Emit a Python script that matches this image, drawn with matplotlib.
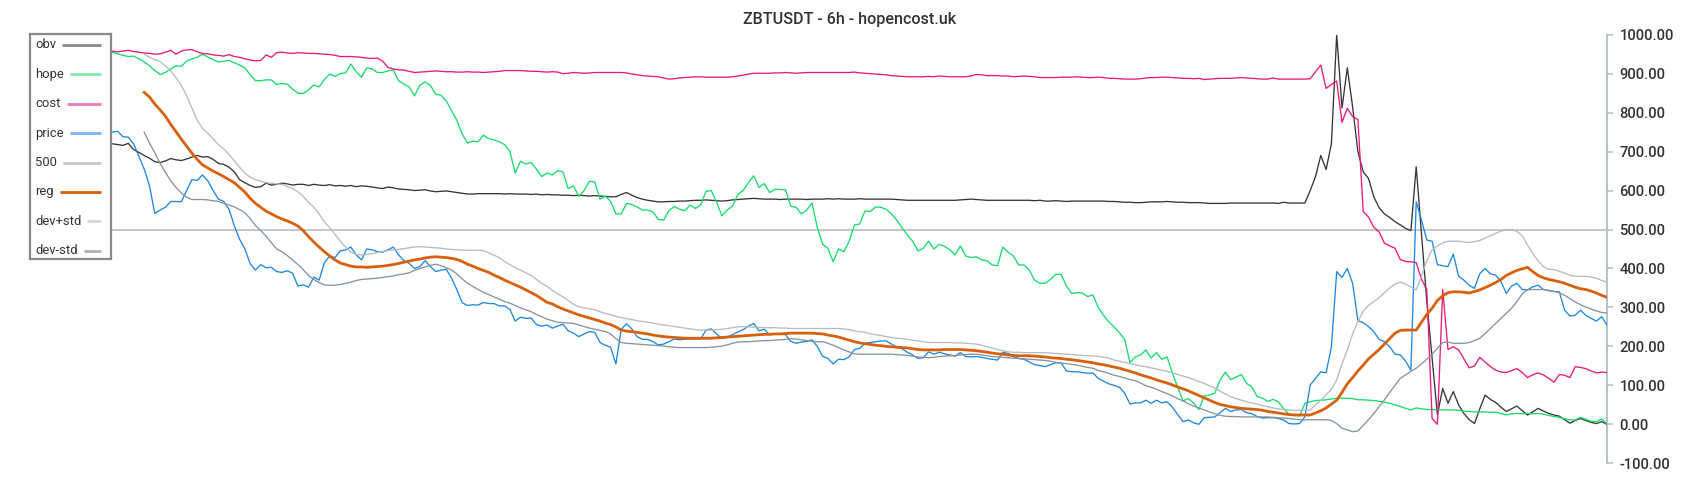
import numpy as np
import matplotlib
matplotlib.use("Agg")
import matplotlib.pyplot as plt
from matplotlib.ticker import FormatStrFormatter
from matplotlib import font_manager

plt.rcParams['font.family'] = ['Roboto', 'DejaVu Sans']
_rw = {f.weight for f in font_manager.fontManager.ttflist if f.name == 'Roboto'}
MED = 500 if (500 in _rw or 'medium' in _rw) else 'normal'

TITLE = "ZBTUSDT - 6h - hopencost.uk"
LEGEND_NAMES = ["obv", "hope", "cost", "price", "500", "reg", "dev+std", "dev-std"]
LEVEL_500 = 500
Y_TICKS = [-100, 0, 100, 200, 300, 400, 500, 600, 700, 800, 900, 1000]

obv = [
    728, 731, 726, 733, 729, 724, 730, 727, 722, 725, 721, 718, 723, 720, 717, 719, 722,
    720, 718, 716, 721, 705, 698, 690, 683, 674, 672, 676, 682, 679, 677, 681, 686,
    690, 686, 687, 680, 670, 667, 660, 648, 628, 620, 613, 608, 610, 619, 614, 616,
    619, 617, 614, 616, 616, 613, 616, 614, 613, 615, 612, 613, 611, 613, 610, 612, 611,
    609, 607, 605, 609, 607, 604, 603, 602, 600, 601, 602, 599, 597, 598, 599, 597, 595,
    593, 591, 591, 592, 592, 592, 592, 592, 591, 592, 591, 591, 591, 590, 591, 589, 590,
    589, 589, 588, 588, 587, 588, 587, 586, 587, 586, 585, 584, 584, 590, 595, 588, 582,
    578, 575, 573, 571, 571, 572, 572, 573, 573, 574, 575, 575, 576, 575, 574, 573, 574,
    576, 577, 578, 579, 580, 579, 578, 578, 578, 577, 578, 578, 578, 578, 577, 578, 578,
    578, 579, 578, 579, 578, 578, 578, 579, 578, 578, 578, 578, 578, 578, 577, 576, 575,
    575, 575, 575, 575, 575, 575, 575, 575, 575, 576, 577, 578, 577, 576, 575, 575, 575,
    575, 575, 575, 575, 575, 575, 574, 575, 573, 573, 574, 573, 572, 573, 573, 573, 573,
    573, 573, 573, 572, 572, 571, 570, 570, 569, 569, 570, 571, 571, 571, 572, 571, 570,
    570, 569, 569, 569, 568, 567, 567, 567, 567, 568, 568, 568, 568, 568, 568, 568, 568,
    568, 567, 570, 568, 568, 568,
    568, 600, 636, 690, 654, 720, 1000, 812, 915, 815, 700,
    648, 631, 584, 556, 540, 531, 520, 512, 503, 497, 661, 487, 316, 170, 24, 92, 54,
    84, 50, 28, 12, 2, 40, 75, 64, 56, 44, 33, 40, 47, 35, 24, 32, 41, 34, 28, 24, 21,
    12, 3, 10, 15, 10, 5, 2, 7, 0,
]

hope = [
    968, 965, 970, 966, 962, 967, 963, 960, 964, 961, 958, 962, 959, 957, 960, 958, 956,
    955, 951, 947, 944, 945, 938, 930, 920, 908, 898, 903, 912, 920, 919, 932, 938,
    942, 950, 943, 936, 930, 932, 934, 928, 922, 915, 897, 882, 882, 884, 884, 872,
    875, 873, 860, 850, 849, 858, 871, 866, 885, 899, 893, 900, 902, 925, 905, 891, 915,
    912, 903, 903, 907, 910, 882, 873, 866, 843, 870, 879, 870, 847, 845, 830, 805, 780,
    745, 722, 727, 725, 742, 733, 730, 725, 718, 700, 645, 675, 668, 672, 655, 636, 645,
    640, 651, 648, 605, 612, 585, 600, 624, 622, 578, 586, 572, 540, 540, 567, 564, 558,
    550, 550, 545, 526, 524, 548, 559, 552, 548, 563, 554, 563, 598, 600, 570, 535, 550,
    560, 590, 600, 620, 638, 608, 618, 595, 603, 603, 602, 560, 557, 540, 550, 568, 505,
    462, 452, 417, 450, 443, 469, 512, 514, 548, 546, 558, 557, 552, 540, 524, 504, 486,
    470, 445, 452, 470, 450, 462, 457, 448, 435, 458, 432, 428, 430, 422, 420, 409, 407,
    455, 442, 432, 409, 409, 396, 370, 362, 362, 372, 385, 385, 355, 336, 338, 337, 328,
    332, 300, 280, 263, 250, 235, 218, 158, 173, 178, 191, 170, 184, 167, 173, 132, 95,
    60, 66, 55, 38, 73, 75, 80, 114, 134, 115, 121, 128, 105, 96, 71, 67, 59,
    64, 58, 40, 26, 23, 22, 54, 58, 61, 62, 63, 65, 67, 67, 67, 66, 63,
    63, 62, 61, 59, 57, 54, 50, 46, 41, 37, 42, 40, 38, 38, 37, 37, 37,
    37, 36, 34, 33, 32, 32, 32, 31, 31, 28, 24, 27, 28, 27, 28, 27, 28,
    26, 23, 20, 18, 14, 12, 11, 18, 13, 8, 7, 14, 1,
]

cost = [
    962, 965, 963, 960, 964, 961, 959, 962, 960, 958, 961, 963, 960, 958, 961, 959, 957,
    958, 956, 958, 960, 957, 955, 953, 952, 950, 951, 955, 960, 950, 958, 961, 962,
    956, 952, 951, 948, 947, 945, 949, 944, 942, 938, 935, 933, 934, 948, 942, 954,
    955, 953, 952, 954, 953, 952, 952, 951, 950, 949, 947, 944, 944, 944, 943, 942, 940,
    939, 940, 932, 916, 912, 910, 909, 906, 903, 904, 905, 906, 907, 906, 905, 905, 904,
    904, 905, 904, 904, 903, 904, 905, 906, 908, 908, 908, 908, 907, 906, 906, 905, 904,
    905, 904, 900, 901, 903, 902, 901, 902, 903, 903, 903, 903, 903, 903, 902, 899, 897,
    895, 894, 893, 892, 889, 886, 887, 889, 890, 891, 892, 892, 891, 891, 891, 891, 891,
    892, 894, 896, 899, 901, 901, 901, 901, 902, 902, 903, 902, 901, 902, 903, 903, 903,
    903, 903, 903, 903, 903, 903, 904, 902, 901, 900, 899, 898, 897, 895, 894, 893, 892,
    892, 892, 892, 893, 892, 894, 893, 892, 892, 892, 892, 894, 898, 897, 895, 895, 895,
    894, 894, 892, 893, 894, 893, 892, 890, 890, 890, 890, 891, 891, 891, 892, 891, 890,
    890, 891, 890, 888, 888, 887, 886, 886, 886, 887, 889, 890, 890, 891, 891, 890, 889,
    888, 888, 887, 888, 885, 886, 887, 888, 888, 888, 889, 890, 889, 888, 887, 886, 886,
    889, 886, 886, 886, 886, 886, 886, 887, 905, 922, 862, 872, 881, 775, 811, 790, 782,
    546, 532, 506, 494, 465, 458, 452, 423, 418, 417, 415, 372, 346, 15, 0, 346, 192,
    199, 191, 168, 145, 150, 172, 160, 148, 139, 134, 133, 138, 143, 133, 120, 127, 132,
    127, 118, 108, 128, 126, 120, 148, 146, 143, 137, 132, 134, 133,
]

price = [
    735, 742, 738, 745, 750, 740, 735, 745, 752, 748, 740, 744, 750, 746, 742, 748, 756,
    750, 752, 738, 737, 720, 688, 655, 612, 541, 550, 557, 572, 572, 571, 600, 628,
    626, 640, 625, 600, 578, 572, 552, 510, 475, 450, 412, 396, 410, 402, 403, 392,
    390, 394, 388, 355, 358, 352, 378, 370, 415, 432, 428, 445, 448, 455, 435, 422, 450,
    448, 443, 442, 448, 455, 435, 420, 413, 400, 405, 420, 405, 392, 396, 398, 375, 345,
    312, 305, 307, 306, 313, 310, 310, 304, 304, 295, 265, 275, 272, 273, 256, 252, 255,
    247, 252, 257, 240, 234, 225, 232, 238, 236, 210, 203, 198, 155, 244, 258, 245, 225,
    218, 218, 212, 204, 206, 212, 219, 217, 219, 219, 219, 219, 242, 245, 232, 220, 224,
    230, 237, 243, 252, 259, 240, 244, 230, 232, 232, 230, 213, 208, 211, 213, 217, 200,
    175, 169, 155, 167, 166, 173, 192, 195, 208, 210, 212, 214, 214, 206, 198, 194, 185,
    178, 169, 171, 186, 180, 185, 181, 178, 175, 184, 174, 173, 174, 172, 169, 167, 165,
    185, 182, 174, 169, 167, 160, 153, 151, 148, 153, 158, 158, 137, 135, 135, 133, 131,
    132, 118, 111, 104, 100, 95, 80, 52, 55, 55, 62, 54, 62, 55, 58, 44, 25,
    7, 11, 4, 0, 17, 18, 19, 30, 41, 33, 37, 38, 30, 27, 20, 16, 17,
    17, 15, 11, 2, 1, 2, 19, 101, 118, 135, 132, 199, 392, 377, 400, 362, 266,
    261, 251, 238, 218, 212, 199, 180, 178, 162, 139, 571, 524, 473, 470, 410, 407, 405,
    437, 380, 370, 357, 349, 387, 400, 386, 383, 366, 336, 355, 362, 346, 345, 353, 357,
    346, 343, 341, 340, 293, 278, 280, 293, 280, 272, 265, 276, 255,
]

REG_START = 23
reg = [
    852, 840, 822, 807, 791, 770, 751, 732, 714, 696, 680, 666, 658, 650, 643, 636, 628,
    620, 608, 596, 580, 567, 557, 547, 540, 533,
    527, 522, 516, 509, 497, 482, 468, 455, 443, 432, 422, 414, 410, 406, 404, 404, 403,
    404, 405, 406, 408, 410, 413, 416, 419, 422, 424, 427, 429, 430, 429, 428, 426, 423,
    418, 411, 406, 400, 395, 390, 383, 377, 370, 364, 358, 352, 345, 338, 331, 322, 313,
    309, 302, 296, 291, 286, 281, 277, 273, 269, 265, 260, 256, 250, 242, 239, 238, 236,
    234, 232, 229, 227, 225, 224, 223, 222, 221, 221, 221, 221, 221, 221, 222, 223, 224,
    225, 226, 227, 228, 229, 230, 231, 231, 232, 232, 233, 234, 234, 234, 234, 234, 233,
    232, 229, 227, 224, 220, 216, 212, 209, 207, 205, 203, 202, 200, 199, 198, 197, 196,
    194, 192, 191, 191, 191, 191, 192, 192, 192, 192, 191, 190, 189, 187, 185, 183, 181,
    180, 178, 177, 176, 176, 176, 175, 174, 173, 171, 170, 169, 167, 166, 164, 162, 160,
    158, 155, 153, 150, 147, 144, 140, 136, 132, 127, 123, 119, 114, 110, 106, 101, 96,
    91, 86, 80, 74, 68, 62, 56, 51, 48, 45, 43, 41, 40, 39, 38, 36, 33,
    31, 29, 27, 25, 24, 24, 24, 24, 29, 35, 42, 52, 62, 82, 104, 120, 137,
    152, 168, 180, 192, 206, 220, 234, 241, 242, 242, 242, 262, 282, 298, 318, 330, 338,
    340, 340, 339, 337, 341, 345, 351, 357, 364, 372, 382, 389, 395, 399, 403, 392, 382,
    376, 372, 369, 366, 362, 357, 352, 348, 346, 342, 337, 331, 326,
]

dev_plus_std = [
    950, 942, 936, 931, 920, 907, 890, 870, 843, 812, 780, 760, 747, 733, 718, 707, 693,
    676, 660, 645, 634, 628, 624, 620, 619, 617,
    616, 610, 605, 597, 585, 570, 557, 540, 520, 505, 488, 470, 455, 442, 436, 435, 436,
    438, 441, 444, 446, 448, 449, 451, 453, 455, 456, 455, 454, 453, 452, 450, 449, 448,
    447, 447, 447, 447, 446, 440, 434, 428, 418, 410, 402, 396, 389, 382, 372, 362, 354,
    344, 335, 327, 318, 308, 302, 299, 297, 294, 289, 285, 281, 277, 274, 271, 269, 266,
    264, 262, 260, 257, 255, 253, 251, 249, 247, 245, 243, 242, 242, 242, 243, 244, 246,
    248, 250, 251, 250, 249, 249, 248, 248, 248, 247, 247, 246, 246, 246, 246, 246, 246,
    246, 246, 246, 246, 245, 243, 240, 238, 236, 232, 230, 228, 225, 223, 221, 220, 218,
    216, 214, 212, 210, 210, 210, 210, 210, 209, 209, 208, 207, 206, 203, 199, 196, 192,
    189, 186, 185, 185, 184, 184, 184, 184, 184, 183, 182, 181, 180, 179, 178, 177, 176,
    176, 174, 172, 170, 165, 162, 159, 156, 153, 150, 148, 145, 142, 139, 136, 132, 128,
    124, 120, 115, 110, 105, 99, 93, 85, 78, 71, 66, 62, 58, 55, 52, 48, 45,
    42, 40, 38, 37, 36, 36, 36, 37, 50, 62, 76, 90, 114, 155, 190, 232, 264,
    290, 305, 315, 325, 338, 350, 360, 365, 360, 352, 345, 380, 420, 448, 458, 466, 470,
    470, 470, 468, 467, 469, 472, 478, 484, 490, 496, 499, 500, 495, 484, 460, 438, 420,
    405, 398, 397, 393, 388, 383, 380, 380, 380, 378, 375, 369, 365,
]

dev_minus_std = [
    750, 722, 697, 670, 647, 625, 608, 594, 583, 577, 577, 577, 576, 574, 572, 567, 563,
    558, 551, 543, 528, 510, 497, 483, 466, 450,
    443, 433, 422, 410, 397, 382, 372, 364, 358, 357, 357, 359, 362, 365, 369, 372, 373,
    374, 375, 377, 379, 381, 384, 386, 389, 395, 400, 404, 408, 411, 407, 402, 396, 386,
    373, 362, 354, 346, 339, 333, 327, 321, 315, 311, 305, 299, 294, 289, 282, 276, 270,
    266, 262, 261, 260, 259, 255, 251, 247, 244, 241, 238, 232, 220, 210, 208, 207, 206,
    205, 204, 203, 202, 201, 199, 198, 197, 197, 197, 197, 197, 197, 198, 199, 201, 204,
    208, 211, 212, 212, 213, 214, 215, 215, 216, 217, 218, 220, 219, 217, 215, 213, 212,
    212, 208, 203, 197, 191, 186, 181, 180, 180, 180, 180, 180, 180, 180, 179, 178, 177,
    175, 173, 172, 171, 172, 174, 175, 176, 177, 178, 179, 180, 180, 178, 176, 174, 173,
    172, 171, 170, 169, 168, 167, 166, 165, 164, 162, 159, 157, 156, 154, 152, 149, 146,
    144, 138, 135, 131, 126, 123, 119, 115, 112, 106, 99, 95, 90, 84, 79, 73, 66,
    60, 53, 47, 42, 37, 32, 27, 23, 21, 20, 20, 19, 19, 19, 19, 19, 19,
    18, 17, 16, 15, 13, 12, 11, 12, 12, 12, 12, 10, 2, -10, -14, -19, -17,
    -3, 12, 28, 45, 63, 82, 100, 118, 127, 136, 144, 155, 167, 180, 195, 210, 211,
    208, 208, 208, 210, 215, 221, 233, 246, 259, 272, 285, 298, 315, 335, 345, 346, 346,
    346, 344, 341, 338, 331, 323, 314, 307, 301, 296, 291, 287, 286,
]

# ---------------------------------------------------------------- figure
W, H = 1700, 500
fig = plt.figure(figsize=(W / 100, H / 100), dpi=100)
fig.patch.set_facecolor('white')

# category spacing: first sample at x=22.3 px, last at x=1607 px; the drawing
# area itself begins at x=30 px (under the legend's left edge)
x_first_px, right_px, top_px, bottom_px = 22.3, 1607.0, 34.7, 463.3
area_left_px = 30.0
n = len(price)
px_per_idx = (right_px - x_first_px) / (n - 1)
x_lo = (area_left_px - x_first_px) / px_per_idx

ax = fig.add_axes([area_left_px / W, 1 - bottom_px / H,
                   (right_px - area_left_px) / W, (bottom_px - top_px) / H])

ax.plot(np.arange(len(obv)), obv, color='#363636', lw=0.95, zorder=3)
ax.plot(np.arange(len(hope)), hope, color='#17db6c', lw=0.95, zorder=3)
ax.plot(np.arange(len(cost)), cost, color='#e8197d', lw=0.95, zorder=3)
ax.plot(np.arange(len(price)), price, color='#1e88e5', lw=0.95, zorder=3)
ax.axhline(LEVEL_500, color='#c6c6c6', lw=1.4, zorder=2)
ax.plot(np.arange(REG_START, REG_START + len(reg)), reg, color='#d8600a', lw=2.0, zorder=4)
ax.plot(np.arange(REG_START, REG_START + len(dev_plus_std)), dev_plus_std,
        color='#b3bcc4', lw=0.95, zorder=3)
ax.plot(np.arange(REG_START, REG_START + len(dev_minus_std)), dev_minus_std,
        color='#88939d', lw=0.95, zorder=3)

ax.set_xlim(x_lo, n - 1)
ax.set_ylim(Y_TICKS[0], Y_TICKS[-1])
ax.set_xticks([])
ax.set_yticks(Y_TICKS)
ax.yaxis.tick_right()
ax.yaxis.set_major_formatter(FormatStrFormatter('%.2f'))
for s in ['left', 'top', 'bottom']:
    ax.spines[s].set_visible(False)
ax.spines['right'].set_color('#b4bdc5')
ax.spines['right'].set_linewidth(1.3)
ax.tick_params(axis='y', direction='out', length=4, width=1.1, color='#b4bdc5',
               labelcolor='#333333', labelsize=10.6, pad=5)
for lbl in ax.get_yticklabels():
    lbl.set_fontweight(MED)
ax.patch.set_alpha(0)

fig.text(0.5, 1 - 19.5 / H, TITLE, ha='center', va='center', fontsize=11.6,
         color='#333333', fontweight=MED)

# ---------------------------------------------------------------- legend box
lg_l, lg_r, lg_t, lg_b = 30.0, 111.0, 34.3, 259.3
lax = fig.add_axes([lg_l / W, 1 - lg_b / H, (lg_r - lg_l) / W, (lg_b - lg_t) / H])
lax.set_zorder(10)
lax.set_xlim(0, lg_r - lg_l)
lax.set_ylim(lg_b - lg_t, 0)
lax.set_xticks([])
lax.set_yticks([])
lax.set_facecolor('white')
for s in lax.spines.values():
    s.set_color('#8a8a8a')
    s.set_linewidth(1.6)

handle_colors = ['#8a8a8a', '#80e9ad', '#ee7bb7', '#78b6ef', '#c8c8c8',
                 '#d8600a', '#d3d8dd', '#a8b2ba']
renderer = fig.canvas.get_renderer()
y0, step = 45.0 - lg_t, 29.4
handle_end = 100.7 - lg_l
for k, (name, col) in enumerate(zip(LEGEND_NAMES, handle_colors)):
    yy = y0 + k * step
    t = lax.text(5, yy, name, ha='left', va='center', fontsize=9.4, color='#333333')
    bb = t.get_window_extent(renderer)
    x_end = lax.transData.inverted().transform((bb.x1, bb.y0))[0]
    lax.plot([x_end + 6, handle_end], [yy, yy], color=col, lw=2.0,
             solid_capstyle='butt')

fig.savefig('out.png', dpi=100, facecolor='white')
